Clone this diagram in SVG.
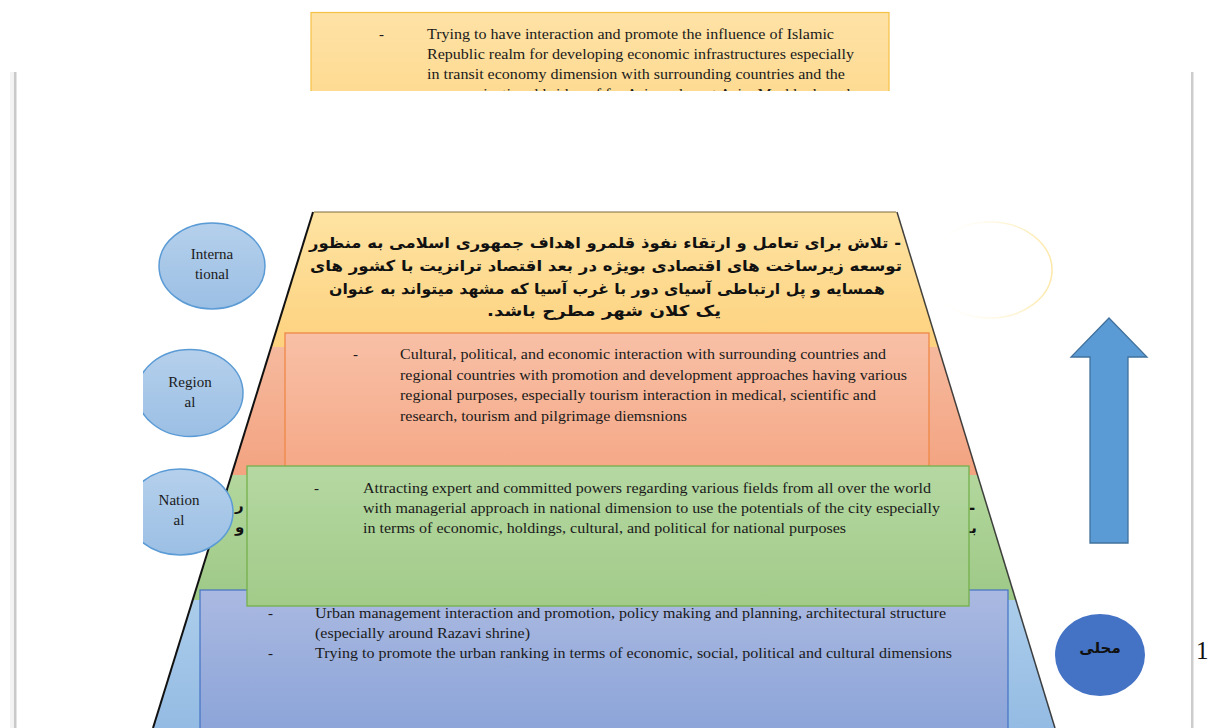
<svg xmlns="http://www.w3.org/2000/svg" width="1208" height="728" viewBox="0 0 1208 728">
<defs>
<style>
.en{font-family:"Liberation Serif","Times New Roman",serif;font-size:15px;fill:#1a1a1a}
.lbl{font-family:"Liberation Serif","Times New Roman",serif;font-size:15px;fill:#1a1a1a;text-anchor:middle}
.fa{font-family:"DejaVu Sans","Noto Sans",sans-serif;font-weight:bold;font-size:15px;fill:#111}
.ell{fill:url(#gEll);stroke:#5b9bd5;stroke-width:1.5}
</style>
<linearGradient id="gYel" x1="0" y1="0" x2="0" y2="1"><stop offset="0" stop-color="#fee3a2"/><stop offset="1" stop-color="#fdd27f"/></linearGradient>
<linearGradient id="gSal" x1="0" y1="0" x2="0" y2="1"><stop offset="0" stop-color="#f6b99d"/><stop offset="1" stop-color="#f3a380"/></linearGradient>
<linearGradient id="gGrn" x1="0" y1="0" x2="0" y2="1"><stop offset="0" stop-color="#b3d79d"/><stop offset="1" stop-color="#9ec987"/></linearGradient>
<linearGradient id="gBlu" x1="0" y1="0" x2="0" y2="1"><stop offset="0" stop-color="#abcdeb"/><stop offset="1" stop-color="#94bbe3"/></linearGradient>
<linearGradient id="gTop" x1="0" y1="0" x2="0" y2="1"><stop offset="0" stop-color="#fee2a6"/><stop offset="1" stop-color="#fed98d"/></linearGradient>
<linearGradient id="gSalBox" x1="0" y1="0" x2="0" y2="1"><stop offset="0" stop-color="#f8c0a7"/><stop offset="1" stop-color="#f5a886"/></linearGradient>
<linearGradient id="gGrnBox" x1="0" y1="0" x2="0" y2="1"><stop offset="0" stop-color="#b5d8a2"/><stop offset="1" stop-color="#a2cb89"/></linearGradient>
<linearGradient id="gBluBox" x1="0" y1="0" x2="0" y2="1"><stop offset="0" stop-color="#aab9e1"/><stop offset="1" stop-color="#8aa3d8"/></linearGradient>
<linearGradient id="gEll" x1="0" y1="0" x2="0" y2="1"><stop offset="0" stop-color="#b5d0ec"/><stop offset="1" stop-color="#9bbfe4"/></linearGradient>
<linearGradient id="gGhost" gradientUnits="userSpaceOnUse" x1="928" y1="0" x2="1052" y2="0"><stop offset="0" stop-color="#ffffff" stop-opacity="0"/><stop offset="0.45" stop-color="#fff7de" stop-opacity="0.6"/><stop offset="1" stop-color="#fde8a8"/></linearGradient>
<clipPath id="clipTop"><rect x="300" y="0" width="600" height="91"/></clipPath>
<clipPath id="clipLeft"><rect x="143" y="0" width="300" height="728"/></clipPath>
</defs>
<rect x="0" y="0" width="1208" height="728" fill="#ffffff"/>
<g id="page-frame">
<rect x="10" y="72" width="4" height="656" fill="#f3f3f3"/>
<rect x="14" y="72" width="2.5" height="656" fill="#c9c9c9"/>
<rect x="1191" y="72" width="2.5" height="656" fill="#cdcdcd"/>
</g>
<g id="top-box" clip-path="url(#clipTop)">
<rect x="311" y="12.5" width="578" height="100" fill="url(#gTop)" stroke="#f5c043" stroke-width="1.2"/>
<text class="en" x="379" y="39">-</text>
<text class="en" x="427" y="39" textLength="407" lengthAdjust="spacingAndGlyphs">Trying to have interaction and promote the influence of Islamic</text>
<text class="en" x="427" y="59" textLength="427" lengthAdjust="spacingAndGlyphs">Republic realm for developing economic infrastructures especially</text>
<text class="en" x="427" y="79" textLength="418" lengthAdjust="spacingAndGlyphs">in transit economy dimension with surrounding countries and the</text>
<text class="en" x="427" y="99" textLength="435" lengthAdjust="spacingAndGlyphs">communicational bridge of far Asia and west Asia; Mashhad can be</text>
</g>
<g id="ghost-ellipse">
<ellipse cx="990" cy="270" rx="62" ry="48" fill="#ffffff" stroke="url(#gGhost)" stroke-width="1.5"/>
</g>
<g id="pyramid">
<path d="M313,212 L897,212 L938.3,347 L271.1,347 Z" fill="url(#gYel)"/>
<polygon points="271.1,347 938.3,347 977.5,475 231.4,475" fill="url(#gSal)"/>
<polygon points="231.4,475 977.5,475 1015.8,600 192.7,600" fill="url(#gGrn)"/>
<polygon points="192.7,600 1015.8,600 1055,728 153,728" fill="url(#gBlu)"/>
<line x1="314" y1="212" x2="896" y2="212" stroke="#7a6a3a" stroke-width="1"/>
<line x1="313" y1="212" x2="153" y2="728" stroke="#111" stroke-width="2"/>
<line x1="897" y1="212" x2="1055" y2="728" stroke="#222" stroke-width="1.5" stroke-opacity="0.85"/>
</g>
<g id="intl-text">
<text class="fa" x="605" y="248" text-anchor="middle" direction="rtl" textLength="592" lengthAdjust="spacingAndGlyphs">- تلاش برای تعامل و ارتقاء نفوذ قلمرو اهداف جمهوری اسلامی به منظور</text>
<text class="fa" x="606" y="271" text-anchor="middle" direction="rtl" textLength="592" lengthAdjust="spacingAndGlyphs">توسعه زیرساخت های اقتصادی بویژه در بعد اقتصاد ترانزیت با کشور های</text>
<text class="fa" x="607" y="294" text-anchor="middle" direction="rtl" textLength="556" lengthAdjust="spacingAndGlyphs">همسایه و پل ارتباطی آسیای دور با غرب آسیا که مشهد میتواند به عنوان</text>
<text class="fa" x="604" y="316" text-anchor="middle" direction="rtl" textLength="234" lengthAdjust="spacingAndGlyphs">یک کلان شهر مطرح باشد.</text>
</g>
<g id="national-fragments">
<text class="fa" x="235" y="510" font-size="14">ر</text>
<text class="fa" x="235" y="532" font-size="14">و</text>
<text class="fa" x="969" y="513" font-size="14">-</text>
<text class="fa" x="966" y="533" font-size="14">بـ</text>
</g>
<g id="regional-box">
<rect x="285" y="333" width="644" height="139" fill="url(#gSalBox)" stroke="#ee8847" stroke-width="1.3"/>
<text class="en" x="353" y="359">-</text>
<text class="en" x="400" y="359" textLength="486" lengthAdjust="spacingAndGlyphs">Cultural, political, and economic interaction with surrounding countries and</text>
<text class="en" x="400" y="379.5" textLength="507" lengthAdjust="spacingAndGlyphs">regional countries with promotion and development approaches having various</text>
<text class="en" x="400" y="400" textLength="476" lengthAdjust="spacingAndGlyphs">regional purposes, especially tourism interaction in medical, scientific and</text>
<text class="en" x="400" y="420.5" textLength="287" lengthAdjust="spacingAndGlyphs">research, tourism and pilgrimage diemsnions</text>
</g>
<g id="local-box">
<rect x="200" y="590" width="808" height="150" fill="url(#gBluBox)" stroke="#4472c4" stroke-width="1.2"/>
<text class="en" x="268" y="618">-</text>
<text class="en" x="315" y="618" textLength="631" lengthAdjust="spacingAndGlyphs">Urban management interaction and promotion, policy making and planning, architectural structure</text>
<text class="en" x="315" y="638" textLength="215" lengthAdjust="spacingAndGlyphs">(especially around Razavi shrine)</text>
<text class="en" x="268" y="658">-</text>
<text class="en" x="315" y="658" textLength="637" lengthAdjust="spacingAndGlyphs">Trying to promote the urban ranking in terms of economic, social, political and cultural dimensions</text>
</g>
<g id="national-box">
<rect x="247" y="466" width="722" height="140" fill="url(#gGrnBox)" stroke="#74b04c" stroke-width="1.3"/>
<text class="en" x="314" y="493">-</text>
<text class="en" x="363" y="493" textLength="568" lengthAdjust="spacingAndGlyphs">Attracting expert and committed powers regarding various fields from all over the world</text>
<text class="en" x="363" y="513" textLength="577" lengthAdjust="spacingAndGlyphs">with managerial approach in national dimension to use the potentials of the city especially</text>
<text class="en" x="363" y="533" textLength="483" lengthAdjust="spacingAndGlyphs">in terms of economic, holdings, cultural, and political for national purposes</text>
</g>
<g id="node-international">
<ellipse class="ell" cx="212" cy="266" rx="53" ry="43"/>
<text class="lbl" x="212" y="259">Interna</text>
<text class="lbl" x="212" y="279">tional</text>
</g>
<g id="node-regional" clip-path="url(#clipLeft)">
<ellipse class="ell" cx="190" cy="393" rx="53" ry="43.5"/>
<text class="lbl" x="190" y="387">Region</text>
<text class="lbl" x="190" y="407">al</text>
</g>
<g id="node-national" clip-path="url(#clipLeft)">
<ellipse class="ell" cx="180" cy="512" rx="53" ry="43"/>
<text class="lbl" x="179" y="505">Nation</text>
<text class="lbl" x="179" y="525">al</text>
</g>
<g id="arrow">
<polygon points="1109,318 1147,357 1128,357 1128,543 1090,543 1090,357 1071,357" fill="#5b9bd5" stroke="#41719c" stroke-width="1.3"/>
</g>
<g id="node-local">
<ellipse cx="1100" cy="655" rx="45" ry="41" fill="#4472c4"/>
<text class="fa" x="1100" y="653" text-anchor="middle" font-size="14" fill="#16213f">محلی</text>
</g>
<g id="page-number">
<text x="1196" y="659" font-family="Liberation Serif, serif" font-size="25" fill="#111">1</text>
</g>
</svg>
